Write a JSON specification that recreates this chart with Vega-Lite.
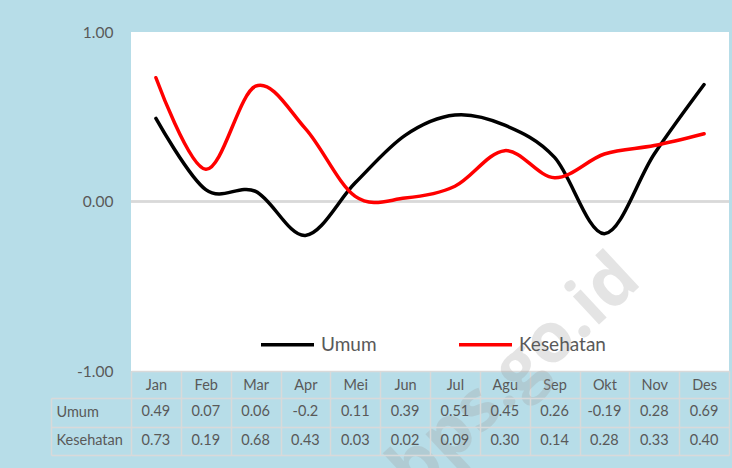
{
  "$schema": "https://vega.github.io/schema/vega-lite/v6.json",
  "background": "#B7DDE8",
  "padding": {"left": 50, "top": 25, "right": 4, "bottom": 12},
  "config": {
    "font": "Lato",
    "locale": {"number": {"decimal": ".", "thousands": ",", "grouping": [3], "currency": ["", ""], "minus": "-"}},
    "view": {"stroke": null}
  },
  "data": {"values": [
    {"month": "Jan", "series": "Umum", "value": 0.49},
    {"month": "Feb", "series": "Umum", "value": 0.07},
    {"month": "Mar", "series": "Umum", "value": 0.06},
    {"month": "Apr", "series": "Umum", "value": -0.2},
    {"month": "Mei", "series": "Umum", "value": 0.11},
    {"month": "Jun", "series": "Umum", "value": 0.39},
    {"month": "Jul", "series": "Umum", "value": 0.51},
    {"month": "Agu", "series": "Umum", "value": 0.45},
    {"month": "Sep", "series": "Umum", "value": 0.26},
    {"month": "Okt", "series": "Umum", "value": -0.19},
    {"month": "Nov", "series": "Umum", "value": 0.28},
    {"month": "Des", "series": "Umum", "value": 0.69},
    {"month": "Jan", "series": "Kesehatan", "value": 0.73},
    {"month": "Feb", "series": "Kesehatan", "value": 0.19},
    {"month": "Mar", "series": "Kesehatan", "value": 0.68},
    {"month": "Apr", "series": "Kesehatan", "value": 0.43},
    {"month": "Mei", "series": "Kesehatan", "value": 0.03},
    {"month": "Jun", "series": "Kesehatan", "value": 0.02},
    {"month": "Jul", "series": "Kesehatan", "value": 0.09},
    {"month": "Agu", "series": "Kesehatan", "value": 0.30},
    {"month": "Sep", "series": "Kesehatan", "value": 0.14},
    {"month": "Okt", "series": "Kesehatan", "value": 0.28},
    {"month": "Nov", "series": "Kesehatan", "value": 0.33},
    {"month": "Des", "series": "Kesehatan", "value": 0.40}
  ]},
  "bounds": "flush",
  "spacing": 27,
  "vconcat": [
    {
      "width": 598,
      "height": 339,
      "view": {"fill": "#FFFFFF", "stroke": null},
      "layer": [
        {
          "mark": {"type": "rule", "color": "#D9D9D9", "strokeWidth": 1.5},
          "encoding": {"y": {"datum": 0, "type": "quantitative"}}
        },
        {
          "mark": {"type": "line", "interpolate": "cardinal", "strokeWidth": 3.5, "strokeCap": "round"},
          "encoding": {
            "x": {
              "field": "month", "type": "ordinal",
              "sort": ["Jan", "Feb", "Mar", "Apr", "Mei", "Jun", "Jul", "Agu", "Sep", "Okt", "Nov", "Des"],
              "bandPosition": 0.5,
              "scale": {"type": "band", "paddingInner": 0, "paddingOuter": 0},
              "axis": {
                "title": null, "orient": "bottom", "grid": false,
                "domainColor": "#D9D9D9", "domainWidth": 1.5,
                "tickBand": "extent", "tickSize": 27, "tickColor": "#D9D9D9", "tickWidth": 1.5,
                "labelAngle": 0, "labelBaseline": "middle", "labelPadding": -13,
                "labelFontSize": 14.5, "labelColor": "#595959"
              }
            },
            "y": {
              "field": "value", "type": "quantitative",
              "scale": {"domain": [-1, 1], "nice": false},
              "axis": {
                "title": null, "values": [-1, 0, 1], "format": ".2f",
                "domain": false, "ticks": false, "grid": false,
                "labelPadding": 18, "labelFontSize": 15.5, "labelColor": "#595959"
              }
            },
            "color": {
              "field": "series", "type": "nominal",
              "scale": {"domain": ["Umum", "Kesehatan"], "range": ["#000000", "#FF0000"]},
              "legend": {
                "title": null, "orient": "none", "legendX": 128, "legendY": 284,
                "direction": "horizontal", "symbolType": "stroke", "symbolSize": 2809,
                "symbolStrokeWidth": 3.5, "labelFontSize": 19, "labelColor": "#595959",
                "labelOffset": 5, "columnPadding": 75
              }
            }
          }
        },
        {
          "data": {"values": [{"label": "bps.go.id"}]},
          "mark": {"type": "text", "angle": -43, "fontSize": 70, "fontWeight": "bold", "color": "#A0A0A0", "opacity": 0.28, "font": "Open Sans"},
          "encoding": {
            "text": {"field": "label", "type": "nominal"},
            "x": {"datum": "Agu", "type": "ordinal", "bandPosition": 0.7},
            "y": {"datum": -1.02, "type": "quantitative"}
          }
        }
      ]
    },
    {
      "width": 598,
      "height": 57,
      "encoding": {
        "x": {
          "field": "month", "type": "ordinal",
          "sort": ["Jan", "Feb", "Mar", "Apr", "Mei", "Jun", "Jul", "Agu", "Sep", "Okt", "Nov", "Des"],
          "scale": {"type": "band", "paddingInner": 0, "paddingOuter": 0},
          "axis": {
            "title": null, "labels": false, "ticks": false, "domain": false,
            "grid": true, "gridColor": "#D9D9D9", "gridWidth": 1.5, "tickBand": "extent"
          }
        },
        "y": {
          "field": "series", "type": "nominal",
          "scale": {"domain": ["Umum", "Kesehatan"], "paddingInner": 0, "paddingOuter": 0},
          "axis": {
            "title": null, "offset": 80,
            "domainColor": "#D9D9D9", "domainWidth": 1.5,
            "ticks": true, "tickSize": -80, "tickColor": "#D9D9D9", "tickWidth": 1.5,
            "tickBand": "extent",
            "grid": true, "gridColor": "#D9D9D9", "gridWidth": 1.5,
            "labelAlign": "left", "labelPadding": 75, "labelFontSize": 14.5, "labelColor": "#595959"
          }
        }
      },
      "layer": [
        {
          "transform": [{"filter": "datum.series == 'Umum'"}],
          "mark": {"type": "text", "fontSize": 14.5, "color": "#595959"},
          "encoding": {"text": {"field": "value", "type": "quantitative", "format": "~g"}}
        },
        {
          "transform": [{"filter": "datum.series == 'Kesehatan'"}],
          "mark": {"type": "text", "fontSize": 14.5, "color": "#595959"},
          "encoding": {"text": {"field": "value", "type": "quantitative", "format": ".2f"}}
        }
      ]
    }
  ]
}
